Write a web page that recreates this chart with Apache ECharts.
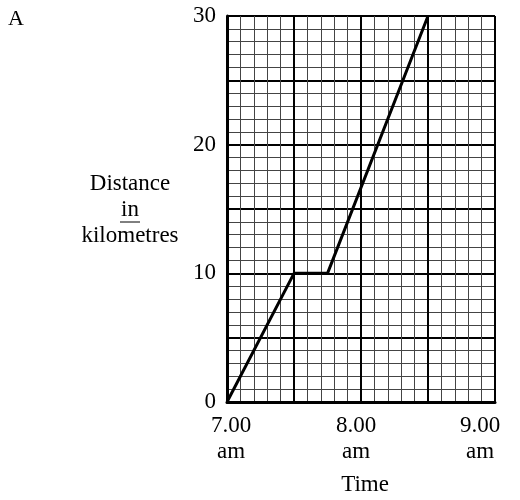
<!DOCTYPE html>
<html>
<head>
<meta charset="utf-8">
<script src="https://cdn.jsdelivr.net/npm/echarts@6/dist/echarts.min.js"></script>
<style>
html,body{margin:0;padding:0;background:#fff;}
#c{width:520px;height:500px;}
</style>
</head>
<body>
<div id="c"></div>
<script>
const times = [7, 7.5, 7.75, 8.5];
const distances = [0, 10, 10, 30];
const xTickValues = [7, 8, 9];
const xTickLabels = ['7.00\nam', '8.00\nam', '9.00\nam'];
const yTickValues = [0, 10, 20, 30];
const yTickLabels = ['0', '10', '20', '30'];
const xName = 'Time';
const yNameLines = ['Distance', 'in', 'kilometres'];
const panelLabel = 'A';

const FONT = '"Liberation Serif", "DejaVu Serif", serif';
const FS = 23;
const labelStyle = (pl, pr) => ({fontFamily: FONT, fontSize: FS, lineHeight: 26, color: '#000', padding: [0, pr, 0, pl]});
const chart = echarts.init(document.getElementById('c'), null, {renderer: 'canvas'});
chart.setOption({
  backgroundColor: '#fff',
  animation: false,
  grid: {left: 227, right: 25, top: 16, bottom: 98, containLabel: false, outerBoundsMode: 'none'},
  xAxis: {
    type: 'value', min: 7, max: 9, interval: 0.5,
    axisLine: {show: true, onZero: false, lineStyle: {color: '#000', width: 3}},
    axisTick: {show: false},
    minorTick: {show: false, splitNumber: 5},
    splitLine: {show: true, lineStyle: {color: '#000', width: 2}},
    minorSplitLine: {show: true, lineStyle: {color: '#444', width: 1}},
    axisLabel: {
      margin: 11, color: '#000', fontFamily: FONT, fontSize: FS, lineHeight: 26,
      rich: {a: labelStyle(8, 0), b: labelStyle(0, 10), c: labelStyle(0, 30)},
      formatter: v => {
        const i = xTickValues.findIndex(t => Math.abs(t - v) < 1e-6);
        if (i < 0) return '';
        const k = ['a', 'b', 'c'][i];
        return xTickLabels[i].split('\n').map(s => '{' + k + '|' + s + '}').join('\n');
      }
    }
  },
  yAxis: {
    type: 'value', min: 0, max: 30, interval: 5,
    axisLine: {show: true, onZero: false, lineStyle: {color: '#000', width: 3}},
    axisTick: {show: false},
    minorTick: {show: false, splitNumber: 5},
    splitLine: {show: true, lineStyle: {color: '#000', width: 2}},
    minorSplitLine: {show: true, lineStyle: {color: '#444', width: 1}},
    axisLabel: {
      margin: 11, color: '#000', fontFamily: FONT, fontSize: FS,
      formatter: v => { const i = yTickValues.findIndex(t => Math.abs(t - v) < 1e-6); return i >= 0 ? yTickLabels[i] : ''; }
    }
  },
  series: [{
    type: 'line',
    data: times.map((t, i) => [t, distances[i]]),
    showSymbol: false,
    symbol: 'none',
    lineStyle: {color: '#000', width: 3},
    z: 10
  }],
  graphic: [
    {type: 'text', left: 8, top: 8, style: {text: panelLabel, font: '22px ' + FONT, fill: '#000'}},
    {type: 'text', x: 130, y: 210, style: {text: yNameLines.join('\n'), font: FS + 'px ' + FONT, fill: '#000', align: 'center', verticalAlign: 'middle', lineHeight: 26}},
    {type: 'line', shape: {x1: 120, y1: 222, x2: 140, y2: 222}, style: {stroke: '#000', lineWidth: 1}},
    {type: 'text', x: 365, y: 485, style: {text: xName, font: FS + 'px ' + FONT, fill: '#000', align: 'center', verticalAlign: 'middle'}}
  ]
});
</script>
</body>
</html>
